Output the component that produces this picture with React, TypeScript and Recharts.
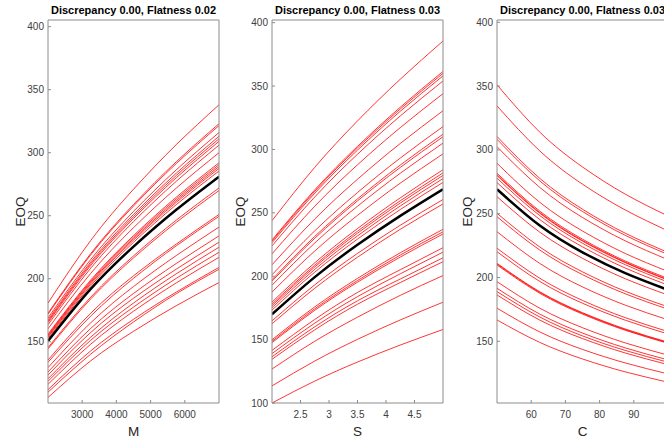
import { LineChart, Line, XAxis, YAxis, Label } from "recharts";

const FONT = '"Liberation Sans", Arial, Helvetica, sans-serif';
const AXIS_GRAY = "#8c8c8c";
const TEXT_GRAY = "#404040";
const RED = "#ff0000";

// EOQ ticks shared by the three panels
const eoqTicks = [100, 150, 200, 250, 300, 350, 400];

// Panel 1: EOQ vs M, red curves read at M = 2000, 3250, 4500, 5750, 7000
const mX = [2000, 3250, 4500, 5750, 7000];
const mTicks = [3000, 4000, 5000, 6000];
const m2000 = [180.7, 172.6, 171.8, 168.9, 167.3, 166.2, 165.2, 163.5, 160.3, 156.1, 155.3, 154.5, 153.7, 152.6, 145.4, 144.3, 135.5, 133.7, 129.5, 126, 123.5, 120.6, 118.6, 116.2, 112, 110, 105.8];
const m3250 = [230.4, 220.0, 219.0, 215.3, 213.3, 211.9, 210.6, 208.4, 204.3, 199.0, 198.0, 197.0, 195.9, 194.5, 185.4, 184.0, 172.7, 170.4, 165.1, 160.6, 157.4, 153.7, 151.2, 148.1, 142.8, 140.2, 134.9];
const m4500 = [271, 258.9, 257.7, 253.4, 251, 249.3, 247.8, 245.3, 240.5, 234.2, 233, 231.8, 230.6, 228.9, 218.1, 216.5, 202.3, 200.3, 193.8, 188.3, 184.5, 180.7, 177.5, 174.2, 167.8, 165.7, 158.3];
const m5750 = [306.4, 292.8, 291.4, 286.4, 283.7, 281.9, 280.1, 277.3, 271.9, 264.7, 263.3, 261.9, 260.6, 258.8, 246.5, 244.7, 227.5, 226.1, 218.4, 212.1, 207.6, 203.9, 200.3, 196.7, 189.4, 188.1, 178.6];
const m7000 = [338, 323, 321.5, 316, 313, 311, 309, 306, 300, 292, 290.5, 289, 287.5, 285.5, 272, 270, 251, 249.5, 241, 234, 229, 225, 221, 217, 209, 207.5, 197];
const mBlack = [150.5, 191.9, 225.5, 254.7, 281];

// Panel 2: EOQ vs S, red curves read at S = 2, 2.75, 3.5, 4.25, 5
const sX = [2, 2.75, 3.5, 4.25, 5];
const sTicks = [2.5, 3, 3.5, 4, 4.5];
const s200 = [243.8, 228.6, 227.7, 226.4, 223.9, 217.6, 209, 201.1, 197.3, 196.1, 192.9, 187.5, 179.6, 178, 176.8, 175.2, 173.3, 164.8, 162.5, 149.9, 148.6, 147.6, 141.5, 139, 136.5, 134.5, 126.8, 113.5, 100];
const s275 = [285.9, 268.1, 267.0, 265.5, 262.5, 255.2, 245.1, 235.8, 231.4, 229.9, 226.2, 219.9, 210.6, 208.7, 207.3, 205.4, 203.2, 193.2, 190.5, 175.8, 174.3, 173.1, 165.9, 163.0, 160.1, 157.7, 148.7, 133.1, 117.3];
const s350 = [322.5, 302.4, 301.2, 299.5, 296.2, 287.9, 276.5, 266, 261, 259.4, 255.2, 248, 237.6, 235.5, 233.9, 231.8, 229.3, 218, 215, 198.3, 196.6, 195.3, 187.2, 183.9, 180.6, 177.9, 167.7, 150.2, 132.3];
const s425 = [355.4, 333.3, 331.9, 330.1, 326.4, 317.2, 304.7, 293.2, 287.7, 285.8, 281.2, 273.4, 261.8, 259.5, 257.7, 255.4, 252.6, 240.2, 237.0, 218.5, 216.7, 215.1, 205.1, 201.9, 197.8, 195.0, 184.9, 165.5, 145.7];
const s500 = [385.5, 361.5, 360, 358, 354, 344, 330.5, 318, 312, 310, 305, 296.5, 284, 281.5, 279.5, 277, 274, 260.5, 257, 237, 235, 233.3, 222.5, 219, 214.5, 211.5, 200.5, 179.5, 158];
const sBlack = [170, 199.3, 224.8, 247.6, 268.6];

// Panel 3: EOQ vs C, red curves read at C = 50, 62.5, 75, 87.5, 100
const cX = [50, 62.5, 75, 87.5, 100];
const cTicks = [60, 70, 80, 90];
const c500 = [351, 334.5, 310.5, 308.3, 302.5, 289.5, 281.7, 280.5, 279.9, 277.8, 274.4, 263.3, 250.3, 247.6, 235.9, 222.9, 220.2, 211.1, 210.5, 209.8, 196.7, 191.5, 188.9, 186.3, 175.9, 166.7];
const c625 = [313.9, 299.2, 277.7, 275.7, 270.6, 258.9, 252.0, 250.9, 250.3, 248.5, 245.4, 235.5, 223.9, 221.5, 211.0, 199.4, 196.9, 188.8, 188.3, 187.6, 175.9, 171.3, 169.0, 166.6, 157.3, 149.1];
const c750 = [286.6, 273.1, 253.5, 251.7, 247, 236.4, 230, 229, 228.5, 226.8, 224, 215, 204.4, 202.2, 192.6, 182, 179.8, 172.4, 171.9, 171.3, 160.6, 156.4, 154.2, 152.1, 143.6, 136.1];
const c875 = [265.3, 252.9, 234.7, 233.0, 228.7, 218.8, 212.9, 212.0, 211.6, 210.0, 207.4, 199.0, 189.2, 187.2, 178.3, 168.5, 166.5, 159.6, 159.1, 158.6, 148.7, 144.8, 142.8, 140.8, 133.0, 126.0];
const c1000 = [248.2, 236.5, 219.6, 218, 213.9, 204.7, 199.2, 198.3, 197.9, 196.4, 194, 186.2, 177, 175.1, 166.8, 157.6, 155.7, 149.3, 148.8, 148.4, 139.1, 135.4, 133.6, 131.7, 124.4, 117.9];
const cBlack = [269.1, 240.7, 219.7, 203.4, 190.3];

function buildRows(xs: number[], cols: number[][], black: number[]) {
  return xs.map((x, i) => {
    const row: Record<string, number> = { x, base: black[i] };
    cols[i].forEach((v, k) => {
      row[`r${k}`] = v;
    });
    return row;
  });
}

function BottomTick(props: any) {
  const { x, y, payload } = props;
  const axisY = y - 8; // tickSize 6 + tickMargin 2
  return (
    <g>
      <line x1={x} x2={x} y1={axisY} y2={axisY - 3} stroke={AXIS_GRAY} />
      <text x={x} y={y} dy="0.71em" textAnchor="middle" fontSize={10} fontFamily={FONT} fill={TEXT_GRAY}>
        {payload.value}
      </text>
    </g>
  );
}

function LeftTick(props: any) {
  const { x, y, payload } = props;
  const axisX = x + 4; // tickSize 4, tickMargin 0
  return (
    <g>
      <line x1={axisX} x2={axisX + 3} y1={y} y2={y} stroke={AXIS_GRAY} />
      <text x={x} y={y} dy="0.355em" textAnchor="end" fontSize={10} fontFamily={FONT} fill={TEXT_GRAY}>
        {payload.value}
      </text>
    </g>
  );
}

interface PanelProps {
  left: number;
  title: string;
  xLabel: string;
  rows: Record<string, number>[];
  count: number;
  xDomain: [number, number];
  xTicks: number[];
  yDomain: [number, number];
  labelGap: number;
}

function Panel({ left, title, xLabel, rows, count, xDomain, xTicks, yDomain, labelGap }: PanelProps) {
  const yTicks = eoqTicks.filter((t) => t >= yDomain[0] && t <= yDomain[1]);
  return (
    <div style={{ position: "absolute", left, top: 0, width: 224, height: 439 }}>
      <div
        style={{
          position: "absolute",
          left: 48,
          top: 5,
          width: 171,
          textAlign: "center",
          whiteSpace: "nowrap",
          fontFamily: FONT,
          fontSize: 11,
          lineHeight: "11px",
          fontWeight: "bold",
          color: "#000000",
        }}
      >
        {title}
      </div>
      <LineChart width={224} height={439} data={rows} margin={{ top: 19, right: 4, bottom: 0, left: 0 }}>
        <XAxis
          xAxisId="b"
          dataKey="x"
          type="number"
          domain={xDomain}
          ticks={xTicks}
          interval={0}
          allowDataOverflow
          height={36}
          tickSize={6}
          tickMargin={2}
          tickLine={false}
          axisLine={{ stroke: AXIS_GRAY }}
          tick={(p: any) => <BottomTick {...p} />}
        >
          <Label
            content={({ viewBox }: any) => (
              <text
                x={viewBox.x + viewBox.width / 2}
                y={viewBox.y + viewBox.height - 3.5}
                textAnchor="middle"
                fontSize={13.5}
                fontFamily={FONT}
                fill="#262626"
              >
                {xLabel}
              </text>
            )}
          />
        </XAxis>
        {/* box top: negative tick size turns the ticks inward */}
        <XAxis
          xAxisId="t"
          orientation="top"
          dataKey="x"
          type="number"
          domain={xDomain}
          ticks={xTicks}
          interval={0}
          allowDataOverflow
          height={1}
          tick={false}
          tickSize={-3}
          tickLine={{ stroke: AXIS_GRAY }}
          axisLine={{ stroke: AXIS_GRAY }}
        />
        <YAxis
          yAxisId="l"
          type="number"
          domain={yDomain}
          ticks={yTicks}
          interval={0}
          allowDataOverflow
          width={48}
          tickSize={4}
          tickMargin={0}
          tickLine={false}
          axisLine={{ stroke: AXIS_GRAY }}
          tick={(p: any) => <LeftTick {...p} />}
        >
          <Label
            content={({ viewBox }: any) => {
              const cx = viewBox.x + viewBox.width - labelGap + 5;
              const cy = viewBox.y + viewBox.height / 2;
              return (
                <text
                  x={cx}
                  y={cy}
                  transform={`rotate(-90 ${cx} ${cy})`}
                  textAnchor="middle"
                  fontSize={13.5}
                  fontFamily={FONT}
                  fill="#262626"
                >
                  EOQ
                </text>
              );
            }}
          />
        </YAxis>
        <YAxis
          yAxisId="r"
          orientation="right"
          type="number"
          domain={yDomain}
          ticks={yTicks}
          interval={0}
          allowDataOverflow
          width={1}
          tick={false}
          tickSize={-3}
          tickLine={{ stroke: AXIS_GRAY }}
          axisLine={{ stroke: AXIS_GRAY }}
        />
        {Array.from({ length: count }, (_, k) => (
          <Line
            key={k}
            xAxisId="b"
            yAxisId="l"
            dataKey={`r${k}`}
            type="natural"
            stroke={RED}
            strokeWidth={0.8}
            dot={false}
            activeDot={false}
            isAnimationActive={false}
          />
        ))}
        <Line
          xAxisId="b"
          yAxisId="l"
          dataKey="base"
          type="natural"
          stroke="#000000"
          strokeWidth={2.5}
          dot={false}
          activeDot={false}
          isAnimationActive={false}
        />
      </LineChart>
    </div>
  );
}

export default function App() {
  const mRows = buildRows(mX, [m2000, m3250, m4500, m5750, m7000], mBlack);
  const sRows = buildRows(sX, [s200, s275, s350, s425, s500], sBlack);
  const cRows = buildRows(cX, [c500, c625, c750, c875, c1000], cBlack);

  return (
    <div
      style={{
        position: "absolute",
        left: 0,
        top: 0,
        width: 664,
        height: 439,
        overflow: "hidden",
        background: "#ffffff",
      }}
    >
      <Panel
        left={0}
        title="Discrepancy 0.00, Flatness 0.02"
        xLabel="M"
        rows={mRows}
        count={m2000.length}
        xDomain={[2000, 7000]}
        xTicks={mTicks}
        yDomain={[101.4, 405.3]}
        labelGap={28}
      />
      <Panel
        left={224}
        title="Discrepancy 0.00, Flatness 0.03"
        xLabel="S"
        rows={sRows}
        count={s200.length}
        xDomain={[2, 5]}
        xTicks={sTicks}
        yDomain={[100, 402.1]}
        labelGap={32.5}
      />
      <Panel
        left={449}
        title="Discrepancy 0.00, Flatness 0.03"
        xLabel="C"
        rows={cRows}
        count={c500.length}
        xDomain={[50, 100]}
        xTicks={cTicks}
        yDomain={[101.6, 401.8]}
        labelGap={30.5}
      />
    </div>
  );
}
